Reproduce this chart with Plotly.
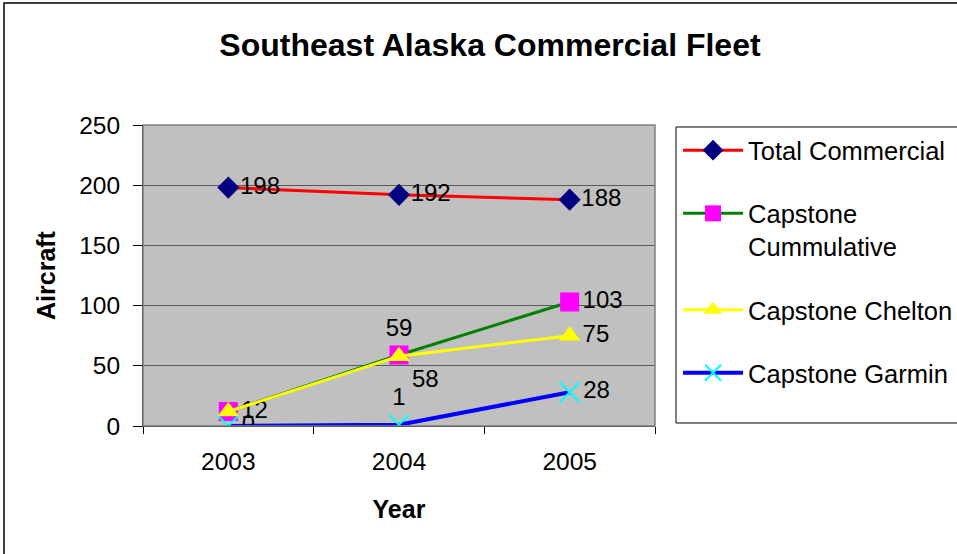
import plotly.graph_objects as go

years = ["2003", "2004", "2005"]
total_commercial = [198, 192, 188]
capstone_cumulative = [12, 59, 103]
capstone_chelton = [12, 58, 75]
capstone_garmin = [0, 1, 28]
y_ticks = [0, 50, 100, 150, 200, 250]

FONT = "Liberation Sans, Arial, sans-serif"
LBL = dict(size=24, color="black", family=FONT)

fig = go.Figure()

fig.add_trace(go.Scatter(
    x=years, y=total_commercial, name="Total Commercial", legendgroup="a",
    mode="lines+markers+text", text=[str(v) for v in total_commercial],
    textposition="middle right",
    line=dict(color="#FF0000", width=3),
    marker=dict(symbol="diamond", size=17, color="#000080"),
    textfont=LBL,
))
fig.add_trace(go.Scatter(
    x=years, y=capstone_cumulative, name="Capstone<br>Cummulative", legendgroup="b",
    mode="lines+markers+text", text=[str(v) for v in capstone_cumulative],
    textposition=["middle right", "top center", "middle right"],
    line=dict(color="#008000", width=3),
    marker=dict(symbol="square", size=19, color="#FF00FF"),
    textfont=LBL,
))
fig.add_trace(go.Scatter(
    x=years, y=capstone_chelton, name="Capstone Chelton", legendgroup="c",
    mode="lines+markers+text", text=["", str(capstone_chelton[1]), str(capstone_chelton[2])],
    textposition=["middle right", "bottom right", "middle right"],
    line=dict(color="#FFFF00", width=3),
    marker=dict(symbol="triangle-up", size=19, color="#FFFF00"),
    textfont=LBL,
))
fig.add_trace(go.Scatter(
    x=years, y=capstone_garmin, name="Capstone Garmin", legendgroup="d",
    mode="lines+markers+text", text=[str(v) for v in capstone_garmin],
    textposition=["middle right", "top center", "middle right"],
    line=dict(color="#0000FF", width=4),
    marker=dict(symbol="x-thin", size=20, color="#00FFFF", line=dict(color="#00FFFF", width=2)),
    textfont=LBL,
))

fig.update_layout(
    width=957, height=554,
    margin=dict(l=143, r=302, t=125, b=128, autoexpand=False),
    paper_bgcolor="white", plot_bgcolor="#C0C0C0",
    font=dict(family=FONT, size=24, color="black"),
    title=dict(text="<b>Southeast Alaska Commercial Fleet</b>", xref="container", x=0.512, xanchor="center",
               yref="container", y=1 - 45 / 554, yanchor="middle", font=dict(size=32, family=FONT)),
    showlegend=True,
    legend=dict(x=1.045, xanchor="left", y=0.993, yanchor="top",
                bgcolor="rgba(0,0,0,0)", borderwidth=0,
                font=dict(size=25.5, family=FONT), tracegroupgap=27,
                valign="top", itemwidth=60),
    shapes=[
        dict(type="rect", xref="paper", yref="paper",
             x0=(4 - 143) / 512, x1=1.6, y0=-0.45, y1=(426 - 3) / 301,
             line=dict(color="black", width=1.5), layer="below"),
        dict(type="rect", xref="paper", yref="paper",
             x0=(676 - 143) / 512, x1=(960 - 143) / 512, y0=(426 - 423) / 301, y1=(426 - 127) / 301,
             line=dict(color="black", width=1), layer="below"),
        dict(type="rect", xref="paper", yref="paper", x0=0, x1=1, y0=0, y1=1,
             line=dict(color="#808080", width=1.5)),
    ],
)

fig.update_xaxes(
    type="category", range=[-0.5, 2.5],
    showline=True, linecolor="black", linewidth=1,
    ticks="outside", tickson="boundaries", ticklen=7, tickcolor="black",
    showgrid=False, ticklabelstandoff=14,
    tickfont=dict(size=24.5), title=dict(text="<b>Year</b>", font=dict(size=25), standoff=26),
)
fig.update_yaxes(
    range=[0, 250], tickvals=y_ticks,
    showline=True, linecolor="black", linewidth=1,
    ticks="outside", ticklen=9, tickcolor="black",
    showgrid=True, gridcolor="#5a5a5a", gridwidth=1,
    zeroline=False, ticklabelstandoff=8,
    tickfont=dict(size=24.5), title=dict(text="<b>Aircraft</b>", font=dict(size=25), standoff=16),
)

fig.write_html("out.html", config={"displayModeBar": False},
               post_script="document.body.style.margin='0px';")
